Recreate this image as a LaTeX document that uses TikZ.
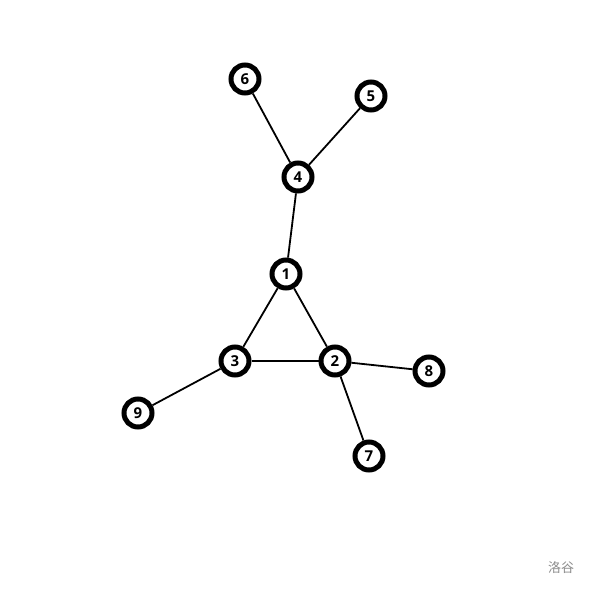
\documentclass[tikz,border=0pt]{standalone}
\usepackage{fontspec}
\setsansfont{Open Sans}
\newfontfamily\cjk{Noto Sans CJK SC}
\begin{document}
\begin{tikzpicture}[x=1pt,y=-1pt,
  vtx/.style={circle,draw=black,line width=5pt,fill=white,minimum size=28pt,inner sep=0pt,font=\sffamily\bfseries\fontsize{15}{15}\selectfont},
  edge/.style={line width=1.8pt}]
\useasboundingbox[fill=white] (0,0) rectangle (589,589);
\node[vtx] (n6) at (245,79) {6};
\node[vtx] (n5) at (371,96) {5};
\node[vtx] (n4) at (298,177) {4};
\node[vtx] (n1) at (286,274) {1};
\node[vtx] (n3) at (235,361) {3};
\node[vtx] (n2) at (335,361) {2};
\node[vtx] (n8) at (429,371) {8};
\node[vtx] (n9) at (138,413) {9};
\node[vtx] (n7) at (369,456) {7};
\draw[edge] (n6) -- (n4);
\draw[edge] (n5) -- (n4);
\draw[edge] (n4) -- (n1);
\draw[edge] (n1) -- (n3);
\draw[edge] (n1) -- (n2);
\draw[edge] (n3) -- (n2);
\draw[edge] (n2) -- (n8);
\draw[edge] (n2) -- (n7);
\draw[edge] (n3) -- (n9);
\node[text=black!45,font=\cjk\fontsize{13}{13}\selectfont] (wm) at (561,568) {洛谷};
\end{tikzpicture}
\end{document}
